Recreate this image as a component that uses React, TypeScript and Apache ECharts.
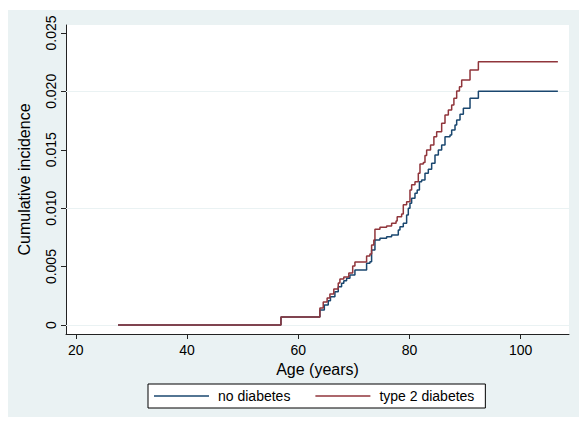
import React, { useEffect, useRef } from "react";
import * as echarts from "echarts";

const seriesNames = ["no diabetes", "type 2 diabetes"];
const seriesColors = ["#1a476f", "#90353b"];

const noDiabetesAges = [27.6, 56.9, 63.9, 64.7, 65.4, 65.8, 66.6, 67.2, 67.8, 68.2, 68.7, 69.3, 70.2, 72.3, 72.9, 73.2, 73.8, 74.7, 75.9, 76.8, 78.0, 78.3, 78.9, 79.5, 79.8, 80.1, 80.4, 81.0, 81.4, 81.8, 82.2, 82.8, 83.4, 84.0, 84.6, 85.2, 85.8, 86.4, 87.3, 87.6, 88.2, 88.5, 89.1, 89.7, 90.9, 92.4, 106.7];
const noDiabetesValues = [0, 0.00068, 0.00128, 0.00171, 0.00208, 0.00242, 0.00285, 0.00328, 0.00357, 0.00379, 0.004, 0.00428, 0.00471, 0.00528, 0.00542, 0.00642, 0.00728, 0.00742, 0.00756, 0.0077, 0.00813, 0.00841, 0.0087, 0.00942, 0.00999, 0.01042, 0.01085, 0.01127, 0.01156, 0.01227, 0.01241, 0.01299, 0.01333, 0.01384, 0.01455, 0.01498, 0.01541, 0.01612, 0.01626, 0.01669, 0.01712, 0.01755, 0.01804, 0.01855, 0.0194, 0.02, 0.02];

const t2dAges = [27.6, 56.9, 63.9, 64.5, 65.2, 65.7, 66.4, 67.2, 67.5, 68.2, 69.1, 69.8, 70.2, 72.3, 72.9, 73.2, 73.6, 73.8, 74.7, 75.9, 76.8, 77.6, 77.8, 78.6, 78.9, 79.5, 80.1, 80.4, 81.0, 81.6, 81.9, 82.5, 82.8, 83.1, 83.8, 84.4, 84.9, 85.8, 86.4, 87.0, 87.6, 88.0, 88.5, 89.0, 89.4, 90.9, 92.4, 106.7];
const t2dValues = [0, 0.00068, 0.00146, 0.00197, 0.00231, 0.00265, 0.00308, 0.0036, 0.00394, 0.00411, 0.00445, 0.00505, 0.0054, 0.0059, 0.00608, 0.00685, 0.00728, 0.0082, 0.00836, 0.00847, 0.0087, 0.0089, 0.00927, 0.0095, 0.0103, 0.01055, 0.01156, 0.012, 0.01227, 0.013, 0.01378, 0.0139, 0.0145, 0.01498, 0.0154, 0.01612, 0.01655, 0.01727, 0.01798, 0.0184, 0.01883, 0.0194, 0.02003, 0.0204, 0.02097, 0.02183, 0.02254, 0.02254];

const xTicks = [20, 40, 60, 80, 100];
const yTicks = [0, 0.005, 0.01, 0.015, 0.02, 0.025];
const xTitle = "Age (years)";
const yTitle = "Cumulative incidence";

const FONT = "'Liberation Sans', Arial, sans-serif";

export default function App() {
  const ref = useRef<HTMLDivElement>(null);
  useEffect(() => {
    if (!ref.current) return;
    const chart = echarts.init(ref.current, undefined, { renderer: "svg" });
    const zip = (a: number[], b: number[]) => a.map((x, i) => [x, b[i]]);
    chart.setOption({
      animation: false,
      backgroundColor: "transparent",
      textStyle: { fontFamily: FONT },
      grid: {
        left: 66,
        right: 10,
        top: 25,
        bottom: 92,
        show: true,
        backgroundColor: "#ffffff",
        borderWidth: 0,
      },
      legend: {
        data: seriesNames,
        left: 148,
        top: 384,
        orient: "horizontal",
        icon: "rect",
        itemWidth: 55,
        itemHeight: 1.5,
        itemGap: 25,
        backgroundColor: "#ffffff",
        borderColor: "#000000",
        borderWidth: 1,
        borderRadius: 0,
        padding: [5, 11, 5, 6],
        textStyle: { fontFamily: FONT, fontSize: 14, color: "#000", padding: [0, 0, 0, 4] },
      },
      xAxis: {
        type: "value",
        min: 18.24,
        max: 108.7,
        name: xTitle,
        nameLocation: "middle",
        nameGap: 24,
        nameTextStyle: { fontFamily: FONT, fontSize: 16, color: "#000" },
        axisLine: { show: true, onZero: false, lineStyle: { color: "#222", width: 1 } },
        axisTick: { show: true, length: 5, customValues: xTicks, lineStyle: { color: "#222" } },
        axisLabel: { customValues: xTicks, fontSize: 14, color: "#000", margin: 9, fontFamily: FONT },
        splitLine: { show: false },
      },
      yAxis: {
        type: "value",
        min: -0.00077,
        max: 0.02568,
        name: yTitle,
        nameLocation: "middle",
        nameRotate: 90,
        nameGap: 34,
        nameTextStyle: { fontFamily: FONT, fontSize: 16, color: "#000" },
        axisLine: { show: true, onZero: false, lineStyle: { color: "#222", width: 1 } },
        axisTick: { show: true, length: 5, customValues: yTicks, lineStyle: { color: "#222" } },
        axisLabel: {
          customValues: yTicks,
          rotate: 90,
          fontSize: 14,
          color: "#000",
          margin: 8,
          fontFamily: FONT,
          formatter: (v: number) => (v === 0 ? "0" : v.toFixed(3)),
        },
        splitLine: { show: false },
      },
      series: [
        {
          name: seriesNames[0],
          type: "line",
          step: "end",
          data: zip(noDiabetesAges, noDiabetesValues),
          showSymbol: false,
          symbol: "none",
          lineStyle: { color: seriesColors[0], width: 1.5 },
          itemStyle: { color: seriesColors[0] },
          z: 3,
          markLine: {
            silent: true,
            symbol: "none",
            z: 1,
            label: { show: false },
            lineStyle: { color: "#eaf2f3", type: "solid", width: 1 },
            data: yTicks.map((v) => ({ yAxis: v })),
          },
        },
        {
          name: seriesNames[1],
          type: "line",
          step: "end",
          data: zip(t2dAges, t2dValues),
          showSymbol: false,
          symbol: "none",
          lineStyle: { color: seriesColors[1], width: 1.5 },
          itemStyle: { color: seriesColors[1] },
          z: 4,
        },
      ],
    });
    return () => chart.dispose();
  }, []);
  return (
    <div style={{ position: "fixed", left: 0, top: 0, width: 579, height: 426, background: "#ffffff" }}>
      <div style={{ position: "absolute", left: 8, top: 10, width: 571, height: 407, background: "#eaf2f3" }} />
      <div ref={ref} style={{ position: "absolute", left: 0, top: 0, width: 579, height: 426 }} />
    </div>
  );
}
